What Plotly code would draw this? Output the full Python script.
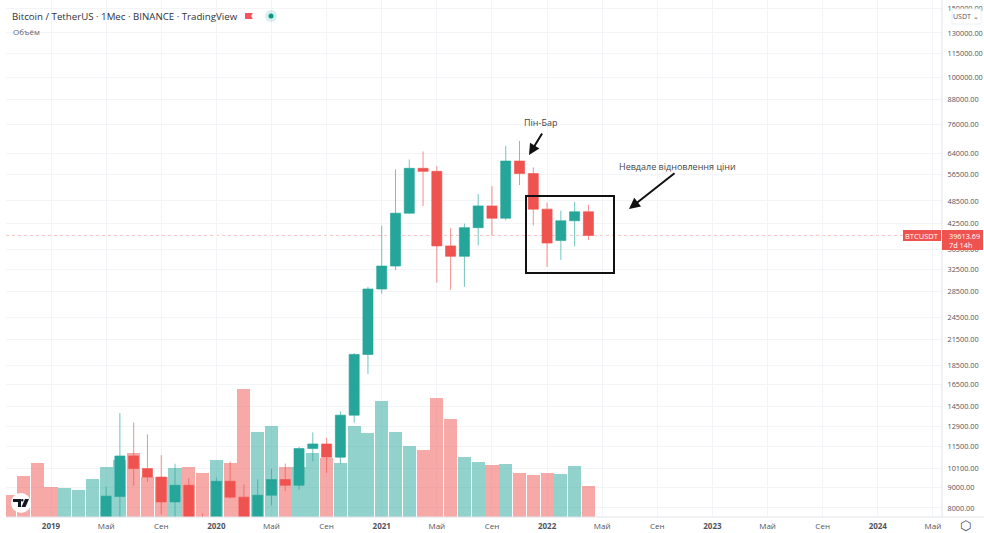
import plotly.graph_objects as go

# ---------- data ----------
volume = [330, 615, 810, 450, 435, 405, 570, 750, 855, 960, 600, 600, 735, 750, 660, 855, 810, 1920,
          1275, 1365, 750, 750, 960, 885, 810, 1365, 1260, 1740, 1275, 1065, 1005, 1785, 1470, 900,
          825, 780, 795, 660, 630, 660, 645, 765, 465]
volume_up = [0, 0, 0, 0, 1, 1, 1, 1, 1, 0, 0, 0, 1, 0, 0, 1, 0, 0, 1, 1, 0, 1, 1, 0, 1, 1, 1, 1, 1, 1,
             0, 0, 0, 1, 1, 0, 1, 0, 0, 0, 1, 1, 0]
candle_start = 7  # May 2019 is the first candle that reaches the visible price range
opens = [5320, 8555, 10854, 10080, 9588, 8289, 9140, 7541, 7195, 9352, 8523, 6412, 8620, 9448, 9138, 11335,
         11649, 10777, 13791, 19698, 28924, 33092, 45134, 58739, 57697, 37253, 35045, 41461, 47100, 43820,
         61300, 56951, 46216, 38466, 43160, 45510]
highs = [9074, 13970, 13200, 12325, 10905, 10370, 9530, 7750, 9575, 10500, 9188, 9460, 10067, 10380, 11444, 12468,
         12067, 14100, 19863, 29300, 41950, 58352, 61844, 64854, 59500, 41330, 42448, 50500, 52920, 67000,
         69000, 59053, 47990, 45821, 48189, 47444]
lows = [5350, 7444, 9111, 9320, 7710, 7300, 6515, 6435, 6901, 8445, 3782, 6150, 8117, 8833, 8893, 10518,
        9825, 10374, 13195, 17572, 28130, 32296, 45000, 47044, 30000, 28805, 29278, 37332, 39600, 43283,
        53256, 42000, 32917, 34322, 37155, 38536]
closes = [8574, 10854, 10080, 9587, 8289, 9140, 7540, 7195, 9352, 8523, 6410, 8620, 9448, 9138, 11335, 11649,
          10776, 13792, 19698, 28923, 33092, 45135, 58740, 57694, 37253, 35045, 41462, 47100, 43824, 61299,
          56950, 46217, 37881, 43160, 45510, 39613.69]
price_ticks = [8000, 9000, 10100, 11500, 12900, 14500, 16500, 18500, 21500, 24500, 28500, 32500, 36500, 42500,
               48500, 56500, 64000, 76000, 88000, 100000, 115000, 130000, 150000]
time_tick_idx = [3, 7, 11, 15, 19, 23, 27, 31, 35, 39, 43, 47, 51, 55, 59, 63, 67]
time_tick_text = ['<b>2019</b>', 'Май', 'Сен', '<b>2020</b>', 'Май', 'Сен', '<b>2021</b>', 'Май', 'Сен',
                  '<b>2022</b>', 'Май', 'Сен', '<b>2023</b>', 'Май', 'Сен', '<b>2024</b>', 'Май']
last_price = 39613.69

# ---------- style ----------
GREEN, RED = '#26a69a', '#ef5350'
GRID, BORDER = '#f3f4f8', '#e0e3eb'
FONT = 'Open Sans, sans-serif'
TXT = '#50535e'
W, H, ML, MT, PW, PH = 984, 533, 6, 0, 936, 517


def X(px):
    return (px - ML) / PW


def Y(py):
    return 1 - (py - MT) / PH


def path(points, close=True):
    s = 'M ' + ' L '.join(f'{X(a):.5f} {Y(b):.5f}' for a, b in points)
    return s + (' Z' if close else '')


fig = go.Figure()
fig.add_bar(x=list(range(len(volume))), y=volume, yaxis='y', width=0.95, showlegend=False, hoverinfo='skip',
            marker=dict(color=['rgba(38,166,154,.5)' if u else 'rgba(239,83,80,.5)' for u in volume_up],
                        line_width=0))
fig.add_candlestick(x=list(range(candle_start, candle_start + len(opens))), open=opens, high=highs, low=lows,
                    close=closes, yaxis='y2', showlegend=False, whiskerwidth=0,
                    increasing=dict(line=dict(color='rgba(38,166,154,.65)', width=1), fillcolor=GREEN),
                    decreasing=dict(line=dict(color='rgba(239,83,80,.65)', width=1), fillcolor=RED))

shapes = [
    dict(type='line', xref='paper', yref='y2', x0=0, x1=1, y0=last_price, y1=last_price, layer='below',
         line=dict(color='#f9c4c3', width=1, dash='dot')),
    dict(type='line', xref='paper', yref='paper', x0=1, x1=1, y0=0, y1=1, line=dict(color=BORDER, width=1)),
    dict(type='line', xref='paper', yref='paper', x0=0, x1=1.045, y0=0, y1=0, line=dict(color=BORDER, width=1)),
    dict(type='rect', xref='paper', yref='paper', x0=X(526), x1=X(614), y0=Y(273), y1=Y(196),
         line=dict(color='#111', width=2)),
    dict(type='rect', xref='paper', yref='paper', x0=X(903), x1=X(941), y0=Y(241), y1=Y(230),
         fillcolor=RED, line_width=0),
    dict(type='rect', xref='paper', yref='paper', x0=X(942), x1=X(983), y0=Y(250), y1=Y(230),
         fillcolor=RED, line_width=0),
    dict(type='rect', xref='paper', yref='paper', x0=X(952), x1=X(981), y0=Y(24), y1=Y(9),
         fillcolor='white', line=dict(color='#eceef3', width=1)),
    # flag and status dot in the legend row
    dict(type='path', xref='paper', yref='paper', line_width=0, fillcolor='#f7525f',
         path=path([(245, 13), (253, 13), (251, 16), (253, 19), (245, 19)])),
    dict(type='circle', xref='paper', yref='paper', x0=X(265), x1=X(277), y0=Y(22), y1=Y(10),
         fillcolor='rgba(38,166,154,.18)', line_width=0),
    dict(type='circle', xref='paper', yref='paper', x0=X(268.5), x1=X(273.5), y0=Y(18.5), y1=Y(13.5),
         fillcolor='#089981', line_width=0),
    # TradingView badge
    dict(type='circle', xref='paper', yref='paper', x0=X(11), x1=X(31), y0=Y(513), y1=Y(493),
         fillcolor='white', line_width=0),
    dict(type='path', xref='paper', yref='paper', line_width=0, fillcolor='#131722',
         path=path([(13, 499), (21, 499), (21, 507), (18, 507), (18, 502), (13, 502)])),
    dict(type='circle', xref='paper', yref='paper', x0=X(21), x1=X(23.5), y0=Y(501.5), y1=Y(499),
         fillcolor='#131722', line_width=0),
    dict(type='path', xref='paper', yref='paper', line_width=0, fillcolor='#131722',
         path=path([(25, 499), (29, 499), (25.5, 507), (21.5, 507)])),
]


def note(x, y, text, **kw):
    base = dict(xref='paper', yref='paper', x=X(x), y=Y(y), text=text, showarrow=False,
                font=dict(family=FONT, size=8.5, color=TXT), xanchor='left', yanchor='middle')
    base.update(kw)
    return base


def arrow(x0, y0, x1, y1):
    return dict(xref='paper', yref='paper', x=X(x1), y=Y(y1), ax=x0 - x1, ay=y0 - y1, axref='pixel', ayref='pixel',
                text='', showarrow=True, arrowhead=2, arrowsize=1.1, arrowwidth=2, arrowcolor='#111')


annotations = [
    note(10, 16, 'Bitcoin / TetherUS · 1Мес · BINANCE · TradingView', font=dict(family=FONT, size=9.7, color='#2f323a')),
    note(11, 31, 'Объём', font=dict(family=FONT, size=8, color='#5d606b')),
    note(540, 123, 'Пін-Бар', xanchor='center', font=dict(family=FONT, size=9, color='#444')),
    note(677.5, 166, 'Невдале відновлення ціни', xanchor='center', font=dict(family=FONT, size=9, color='#444')),
    arrow(543, 132, 529, 155),
    arrow(676, 172, 629, 209),
    note(922, 235.5, 'BTCUSDT', xanchor='center', font=dict(family=FONT, size=7.5, color='white')),
    note(947, 235.5, '39613.69', font=dict(family=FONT, size=7.3, color='white')),
    note(947, 245, '7d 14h', font=dict(family=FONT, size=7.3, color='white')),
    note(966, 16, 'USDT ⌄', xanchor='center', font=dict(family=FONT, size=7, color='#50535e')),
    note(966, 525, '⬡', xanchor='center', font=dict(family='DejaVu Sans', size=13, color='#50535e')),
]

fig.update_layout(
    width=W, height=H, margin=dict(l=ML, r=W - ML - PW, t=MT, b=H - MT - PH, pad=0),
    autosize=False, paper_bgcolor='white', plot_bgcolor='white', boxgap=0.27, boxgroupgap=0, bargap=0,
    font=dict(family=FONT, size=8, color=TXT), shapes=shapes, annotations=annotations, hovermode=False,
    xaxis=dict(type='linear', range=[-0.266, 67.66], tickmode='array', tickvals=time_tick_idx, ticktext=time_tick_text,
               showgrid=True, gridcolor=GRID, gridwidth=1, zeroline=False, showline=False, ticks='outside', ticklen=1,
               tickcolor='rgba(0,0,0,0)', tickfont=dict(family=FONT, size=8, color=TXT), rangeslider=dict(visible=False),
               automargin=False),
    yaxis=dict(range=[0, 7755], visible=False, fixedrange=True),
    yaxis2=dict(type='log', range=[3.880, 5.198], overlaying='y', side='right', anchor='x', tickmode='array',
                tickvals=price_ticks, ticktext=[f'{v:.2f}' for v in price_ticks], showgrid=True, gridcolor=GRID,
                zeroline=False, showline=False, ticks='outside', ticklen=3, tickcolor='rgba(0,0,0,0)',
                tickfont=dict(family=FONT, size=7.3, color=TXT), automargin=False),
)
fig.write_html('out.html', config={'displayModeBar': False},
               post_script="document.body.style.margin='0';document.body.style.overflow='hidden';")
